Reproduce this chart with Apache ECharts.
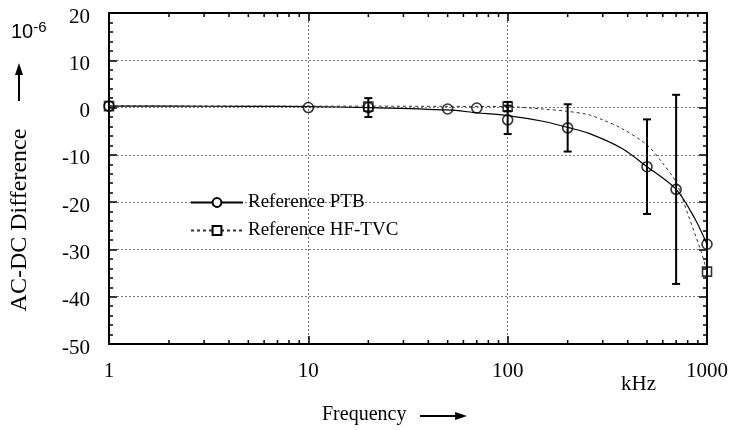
<!DOCTYPE html>
<html><head><meta charset="utf-8">
<script src="https://cdn.jsdelivr.net/npm/echarts@6/dist/echarts.min.js"></script>
<style>html,body{margin:0;padding:0;background:#fff}#c{width:731px;height:430px}</style>
</head><body><div id="c"></div>
<script>
// ---- data ----
const freqPTB = [1, 10, 20, 50, 70, 100, 200, 500, 700, 1000];
const valPTB  = [0.3, 0.0, 0.0, -0.3, -0.1, -2.6, -4.3, -12.5, -17.3, -28.9];
const errPTB  = [0, 0, 2, 0, 0, 3, 5, 10, 20, 0];
const freqHF  = [1, 20, 100, 1000];
const valHF   = [0.3, 0.2, 0.2, -34.7];
const errHF   = [0, 0, 1, 0];
const curveFreqPTB = [1, 2, 5, 10, 20, 50, 70, 100, 150, 200, 254, 373, 500, 700, 867, 1000];
const curvePTB     = [0.3, 0.3, 0.25, 0.2, 0.0, -0.5, -1.1, -1.7, -2.9, -4.2, -5.4, -8.6, -12.5, -17.3, -23.4, -28.9];
const curveFreqHF  = [1, 10, 20, 50, 100, 150, 200, 254, 300, 373, 500, 590, 700, 804, 935, 1000];
const curveHF      = [0.4, 0.3, 0.3, 0.25, 0.2, -0.3, -0.8, -1.5, -2.6, -4.4, -7.9, -11.4, -15.8, -22.7, -30.5, -34.7];
const xMinorTicks  = [2,3,4,5,6,7,8,9,20,30,40,50,60,70,80,90,200,300,400,500,600,700,800,900];
const yTicks = { min: -50, max: 20, interval: 10 };

const serif = 'Liberation Serif';
const zip = (a, b) => a.map((v, i) => [v, b[i]]);
const errData = (f, v, e) => f.map((x, i) => [x, v[i] - e[i], v[i] + e[i]]).filter((d, i) => e[i] > 0);

function errRender(params, api) {
  const x = api.value(0);
  const lo = api.coord([x, api.value(1)]);
  const hi = api.coord([x, api.value(2)]);
  const w = 4;
  const st = { stroke: '#000', lineWidth: 2 };
  return { type: 'group', children: [
    { type: 'line', shape: { x1: lo[0], y1: lo[1], x2: hi[0], y2: hi[1] }, style: st },
    { type: 'line', shape: { x1: lo[0] - w, y1: lo[1], x2: lo[0] + w, y2: lo[1] }, style: st },
    { type: 'line', shape: { x1: hi[0] - w, y1: hi[1], x2: hi[0] + w, y2: hi[1] }, style: st }
  ]};
}
function minorRender(params, api) {
  const cs = params.coordSys;
  const p = api.coord([api.value(0), yTicks.min]);
  const L = 4;
  const st = { stroke: '#000', lineWidth: 1.5 };
  return { type: 'group', children: [
    { type: 'line', shape: { x1: p[0], y1: cs.y + cs.height, x2: p[0], y2: cs.y + cs.height - L }, style: st },
    { type: 'line', shape: { x1: p[0], y1: cs.y, x2: p[0], y2: cs.y + L }, style: st }
  ]};
}

const chart = echarts.init(document.getElementById('c'), null, { renderer: 'canvas' });
const axisLine = { show: true, onZero: false, lineStyle: { color: '#000', width: 2 } };
chart.setOption({
  animation: false,
  backgroundColor: '#fff',
  grid: { left: 109, right: 22, top: 13, bottom: 86 },
  legend: {
    data: ['Reference PTB', 'Reference HF-TVC'],
    orient: 'vertical', left: 190, top: 193, padding: 0,
    itemWidth: 52, itemHeight: 11, itemGap: 9,
    textStyle: { fontFamily: serif, fontSize: 19, color: '#000' },
    inactiveColor: '#000'
  },
  xAxis: [
    { type: 'log', logBase: 10, min: 1, max: 1000, position: 'bottom',
      axisLine, axisTick: { inside: true, length: 8, lineStyle: { color: '#000', width: 1.5 } },
      axisLabel: { fontFamily: serif, fontSize: 21, color: '#000', margin: 17, formatter: v => String(v) },
      splitLine: { show: true, lineStyle: { color: '#777', width: 1, type: [2, 2] } },
      minorTick: { show: false }, minorSplitLine: { show: false } },
    { type: 'log', logBase: 10, min: 1, max: 1000, position: 'top',
      axisLine, axisTick: { inside: true, length: 8, lineStyle: { color: '#000', width: 1.5 } },
      axisLabel: { show: false }, splitLine: { show: false } }
  ],
  yAxis: [
    { type: 'value', min: yTicks.min, max: yTicks.max, interval: yTicks.interval, position: 'left',
      axisLine, axisTick: { inside: true, length: 8, lineStyle: { color: '#000', width: 1.5 } },
      minorTick: { show: true, splitNumber: 5, length: 4, lineStyle: { color: '#000', width: 1.5 } },
      axisLabel: { fontFamily: serif, fontSize: 21, color: '#000', margin: 19, verticalAlign: 'top', lineHeight: 8 },
      splitLine: { show: true, lineStyle: { color: '#777', width: 1, type: [2, 2] } } },
    { type: 'value', min: yTicks.min, max: yTicks.max, interval: yTicks.interval, position: 'right',
      axisLine, axisTick: { inside: true, length: 8, lineStyle: { color: '#000', width: 1.5 } },
      minorTick: { show: true, splitNumber: 5, length: 4, lineStyle: { color: '#000', width: 1.5 } },
      axisLabel: { show: false }, splitLine: { show: false } }
  ],
  series: [
    { name: 'Reference PTB', type: 'line', data: zip(curveFreqPTB, curvePTB), smooth: 0.3,
      symbol: 'emptyCircle', symbolSize: 9, showSymbol: false,
      lineStyle: { color: '#000', width: 1.2 }, itemStyle: { color: '#000', borderColor: '#000', borderWidth: 1.5 }, z: 3 },
    { name: 'Reference HF-TVC', type: 'line', data: zip(curveFreqHF, curveHF), smooth: 0.3,
      symbol: 'emptyRect', symbolSize: 8, showSymbol: false,
      lineStyle: { color: '#333', width: 1, type: [3, 3] }, itemStyle: { color: '#000', borderColor: '#000', borderWidth: 1.5 }, z: 3 },
    { name: 'PTB error', type: 'custom', renderItem: errRender, data: errData(freqPTB, valPTB, errPTB), z: 4 },
    { name: 'HF error', type: 'custom', renderItem: errRender, data: errData(freqHF, valHF, errHF), z: 4 },
    { name: 'PTB points', type: 'scatter', data: zip(freqPTB, valPTB), symbol: 'circle', symbolSize: 10,
      itemStyle: { color: 'rgba(0,0,0,0)', borderColor: '#000', borderWidth: 1.6 }, z: 5 },
    { name: 'HF points', type: 'scatter', data: zip(freqHF, valHF), symbol: 'rect', symbolSize: 9,
      itemStyle: { color: 'rgba(0,0,0,0)', borderColor: '#000', borderWidth: 1.6 }, z: 5 },
    { name: 'x minor ticks', type: 'custom', renderItem: minorRender, data: xMinorTicks.map(v => [v]), silent: true, z: 6 }
  ],
  graphic: [
    { type: 'text', left: 11, top: 20, style: { text: '10{s|-6}', fontFamily: 'Liberation Sans', fontSize: 20, fill: '#000',
      rich: { s: { fontFamily: 'Liberation Sans', fontSize: 15, verticalAlign: 'top', padding: [0, 0, 10, 0] } } } },
    { type: 'line', shape: { x1: 19, y1: 101, x2: 19, y2: 72 }, style: { stroke: '#000', lineWidth: 2 } },
    { type: 'polygon', shape: { points: [[19, 63], [15, 75], [23, 75]] }, style: { fill: '#000' } },
    { type: 'text', x: 20, y: 220, rotation: Math.PI / 2, style: { text: 'AC-DC Difference', fontFamily: serif, fontSize: 24,
      fill: '#000', align: 'center', verticalAlign: 'middle' } },
    { type: 'text', left: 322, top: 405, style: { text: 'Frequency', fontFamily: serif, fontSize: 20, fill: '#000' } },
    { type: 'line', shape: { x1: 420, y1: 416, x2: 456, y2: 416 }, style: { stroke: '#000', lineWidth: 2 } },
    { type: 'polygon', shape: { points: [[467, 416], [455, 412], [455, 420]] }, style: { fill: '#000' } },
    { type: 'text', left: 621, top: 374, style: { text: 'kHz', fontFamily: serif, fontSize: 21, fill: '#000' } }
  ]
});
</script></body></html>
